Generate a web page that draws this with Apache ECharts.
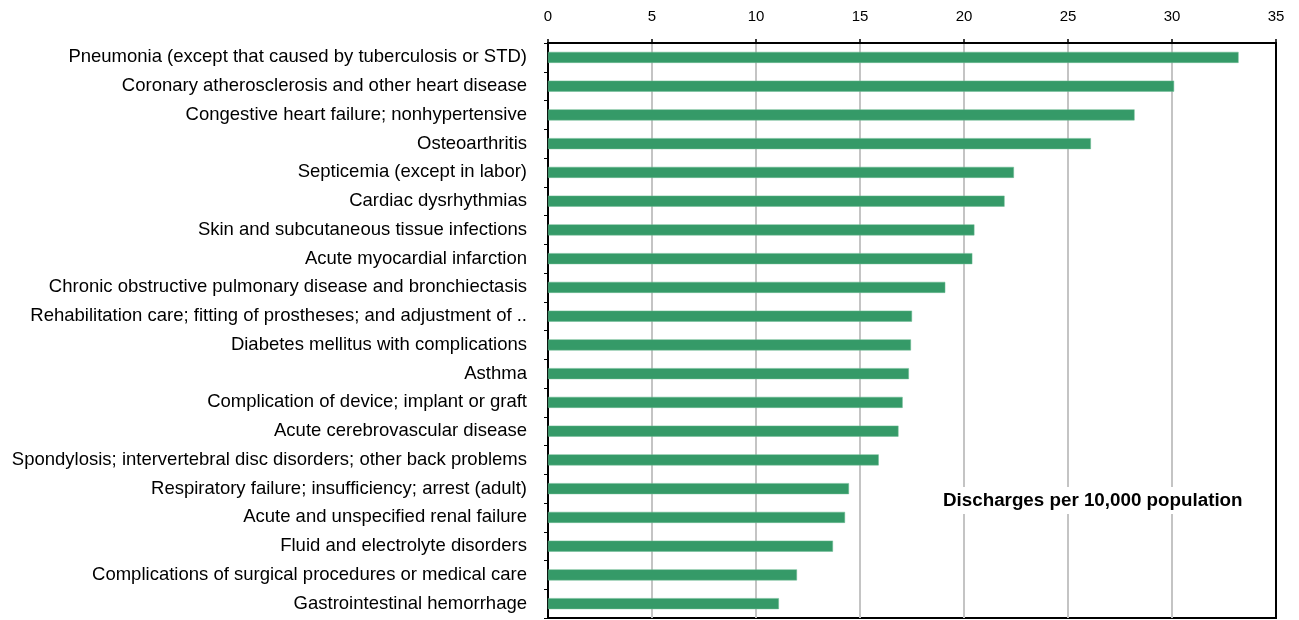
<!DOCTYPE html>
<html>
<head>
<meta charset="utf-8">
<script src="https://cdn.jsdelivr.net/npm/echarts@6/dist/echarts.min.js"></script>
<style>html,body{margin:0;padding:0;background:#fff}#c{width:1299px;height:620px}</style>
</head>
<body>
<div id="c"></div>
<script>
const categories = [
  "Pneumonia (except that caused by tuberculosis or STD)",
  "Coronary atherosclerosis and other heart disease",
  "Congestive heart failure; nonhypertensive",
  "Osteoarthritis",
  "Septicemia (except in labor)",
  "Cardiac dysrhythmias",
  "Skin and subcutaneous tissue infections",
  "Acute myocardial infarction",
  "Chronic obstructive pulmonary disease and bronchiectasis",
  "Rehabilitation care; fitting of prostheses; and adjustment of ..",
  "Diabetes mellitus with complications",
  "Asthma",
  "Complication of device; implant or graft",
  "Acute cerebrovascular disease",
  "Spondylosis; intervertebral disc disorders; other back problems",
  "Respiratory failure; insufficiency; arrest (adult)",
  "Acute and unspecified renal failure",
  "Fluid and electrolyte disorders",
  "Complications of surgical procedures or medical care",
  "Gastrointestinal hemorrhage"
];
const discharges = [33.2, 30.1, 28.2, 26.1, 22.4, 21.95, 20.5, 20.4, 19.1, 17.5, 17.45, 17.35, 17.05, 16.85, 15.9, 14.47, 14.28, 13.7, 11.97, 11.1];
const axisTitle = "Discharges per 10,000 population";

const FONT = '"Liberation Sans", Arial, sans-serif';
const chart = echarts.init(document.getElementById('c'));
chart.setOption({
  animation: false,
  textStyle: { fontFamily: FONT },
  grid: { left: 548, right: 23, top: 43, bottom: 2, show: true, borderColor: '#000', borderWidth: 2 },
  xAxis: {
    type: 'value', position: 'top', min: 0, max: 35, interval: 5,
    axisLine: { show: true, lineStyle: { color: '#000', width: 2 } },
    axisTick: { show: true, length: 4, lineStyle: { color: '#000', width: 1.5 } },
    axisLabel: { color: '#000', fontSize: 15, margin: 19, fontFamily: FONT },
    splitLine: { show: true, lineStyle: { color: '#c4c4c4', width: 2 } }
  },
  yAxis: [{
    type: 'category', data: categories, inverse: true,
    axisLine: { show: true, lineStyle: { color: '#000', width: 2 } },
    axisTick: { show: true, length: 4, lineStyle: { color: '#000' } },
    axisLabel: { color: '#000', fontSize: 18.5, margin: 21, fontFamily: FONT }
  }, {
    type: 'category', data: categories, inverse: true, position: 'right', z: 5,
    axisLine: { show: true, lineStyle: { color: '#000', width: 2 } },
    axisTick: { show: false }, axisLabel: { show: false }, splitLine: { show: false }
  }],
  series: [{
    type: 'bar', data: discharges, barWidth: 11,
    itemStyle: { color: '#359a68', borderColor: '#6dbb93', borderWidth: 0.5 }
  }],
  title: {
    text: axisTitle, left: 936, top: 487, padding: [4, 7],
    backgroundColor: '#fff',
    textStyle: { color: '#000', fontSize: 18.8, fontWeight: 'bold', fontFamily: FONT }
  }
});
</script>
</body>
</html>
